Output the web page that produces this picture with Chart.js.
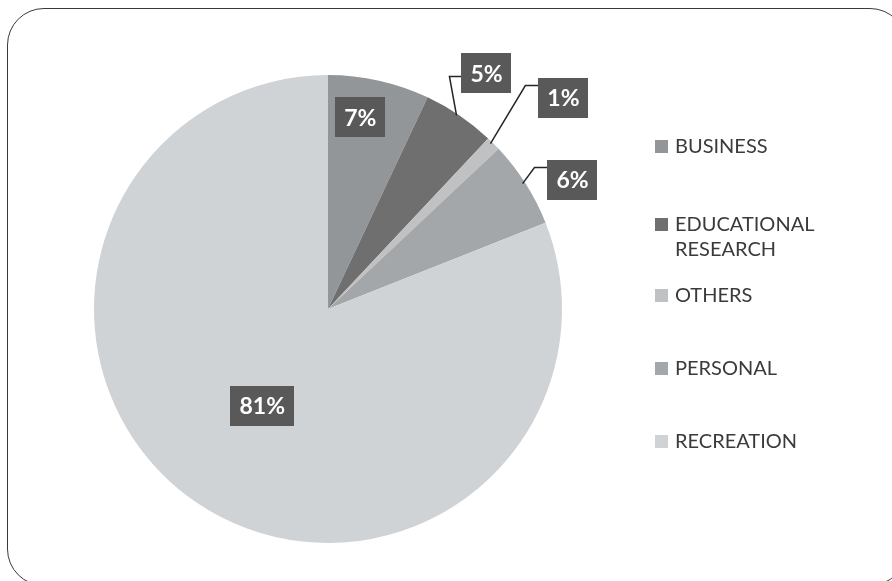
<!DOCTYPE html>
<html>
<head>
<meta charset="utf-8">
<script src="https://cdn.jsdelivr.net/npm/chart.js@4.4.1/dist/chart.umd.min.js"></script>
<style>
    html, body { margin: 0; padding: 0; background: #fff; overflow: hidden; }
    #wrap { position: relative; width: 892px; height: 581px; overflow: hidden; }
    #frame {
        position: absolute; left: 7px; top: 8px; width: 900px; height: 578px;
        border: 1.5px solid #3a3a3a; border-radius: 37px; box-sizing: border-box;
    }
    #grafico { position: absolute; left: 0; top: 0; }
</style>
</head>
<body>
<div id="wrap">
    <div id="frame"></div>
    <canvas id="grafico" width="892" height="581"></canvas>
</div>
<script>
// categorias e percentuais do gráfico de pizza
var categorias = ["BUSINESS", ["EDUCATIONAL", "RESEARCH"], "OTHERS", "PERSONAL", "RECREATION"];
var percentuais = [7, 5, 1, 6, 81];
var cores = ["#939698", "#6f6f70", "#bfc1c3", "#a4a7a9", "#d0d3d6"];

// posição dos rótulos: dentro da fatia (f = fração do raio) ou fora com linha de chamada
var posRotulos = [
    { tipo: "dentro", f: 0.83, dx: -10, dy: -2 },
    { tipo: "fora", dx: 27, dy: -42, linhaDy: 3, cotovelo: 12 },
    { tipo: "fora", dx: 70, dy: -46, linhaDy: -12, cotovelo: 13 },
    { tipo: "fora", dx: 47, dy: -4, linhaDy: -12, cotovelo: 13 },
    { tipo: "dentro", f: 0.5, dx: 0, dy: 0 }
];
var legendaY = [146, 224, 295, 368, 441];

var pluginRotulos = {
    id: 'rotulos',
    afterDatasetsDraw: function (chart) {
        var ctx = chart.ctx;
        var arcos = chart.getDatasetMeta(0).data;
        ctx.save();
        ctx.font = "bold 23px Lato, sans-serif";
        arcos.forEach(function (arco, i) {
            var p = posRotulos[i];
            var meio = (arco.startAngle + arco.endAngle) / 2;
            var texto = percentuais[i] + "%";
            var larg = ctx.measureText(texto).width + 18;
            var alt = 40;
            var cx, cy;
            if (p.tipo == "dentro") {
                var r = arco.outerRadius * p.f;
                cx = arco.x + Math.cos(meio) * r + p.dx;
                cy = arco.y + Math.sin(meio) * r + p.dy;
            } else {
                var ex = arco.x + Math.cos(meio) * arco.outerRadius;
                var ey = arco.y + Math.sin(meio) * arco.outerRadius;
                cx = ex + p.dx;
                cy = ey + p.dy;
                var esq = cx - larg / 2;
                var ly = cy + p.linhaDy;
                ctx.strokeStyle = "#262626";
                ctx.lineWidth = 1.5;
                ctx.beginPath();
                ctx.moveTo(ex - 3, ey);
                ctx.lineTo(esq - p.cotovelo, ly);
                ctx.lineTo(esq, ly);
                ctx.stroke();
            }
            ctx.fillStyle = "#595959";
            ctx.fillRect(Math.round(cx - larg / 2), Math.round(cy - alt / 2), Math.round(larg), alt);
            ctx.fillStyle = "#ffffff";
            ctx.textAlign = "center";
            ctx.textBaseline = "middle";
            ctx.fillText(texto, cx, cy + 1);
        });
        ctx.restore();
    }
};

var pluginLegenda = {
    id: 'legendaLateral',
    afterDraw: function (chart) {
        var ctx = chart.ctx;
        ctx.save();
        ctx.font = "20px Lato, sans-serif";
        ctx.textBaseline = "middle";
        ctx.textAlign = "left";
        categorias.forEach(function (cat, i) {
            var y = legendaY[i];
            ctx.fillStyle = cores[i];
            ctx.fillRect(655, y - 6, 13, 13);
            ctx.fillStyle = "#3a3a3a";
            var linhas = Array.isArray(cat) ? cat : [cat];
            linhas.forEach(function (l, j) {
                ctx.fillText(l, 675, y + 1 + j * 25);
            });
        });
        ctx.restore();
    }
};

var ctxGrafico = document.getElementById("grafico");
var graficoPizza = new Chart(ctxGrafico, {
    type: 'pie',
    data: {
        labels: categorias,
        datasets: [{
            data: percentuais,
            backgroundColor: cores,
            borderWidth: 0
        }]
    },
    options: {
        responsive: false,
        animation: false,
        layout: { padding: { left: 94, right: 330, top: 75, bottom: 38 } },
        plugins: {
            legend: { display: false },
            tooltip: { enabled: false }
        }
    },
    plugins: [pluginRotulos, pluginLegenda]
});
</script>
</body>
</html>
